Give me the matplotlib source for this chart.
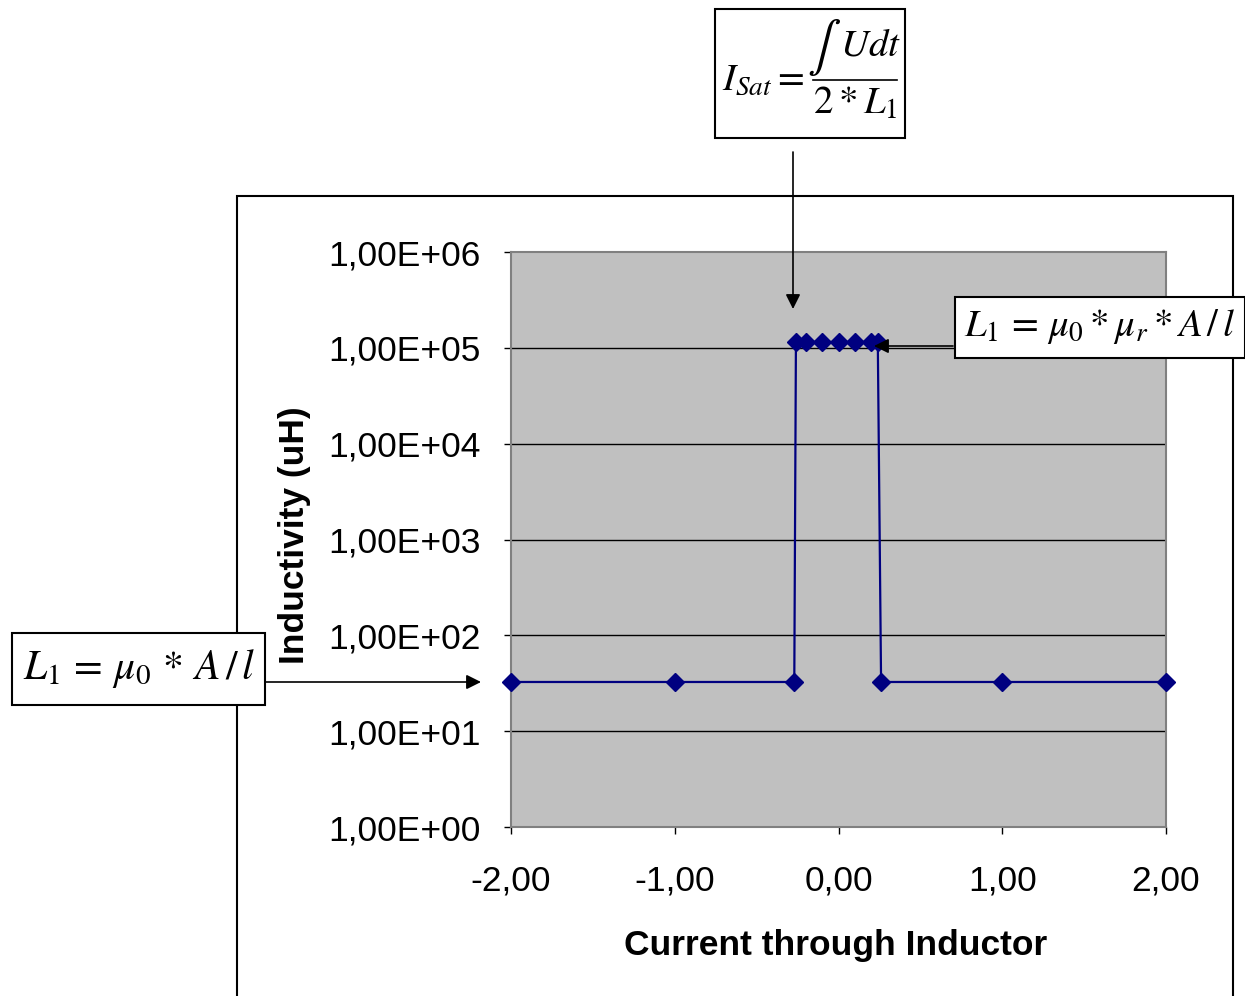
import matplotlib.pyplot as plt
from matplotlib.patches import Rectangle
from matplotlib.lines import Line2D
from matplotlib.ticker import FixedLocator, FuncFormatter, NullLocator

plt.rcParams['font.family'] = 'Liberation Sans'
plt.rcParams['mathtext.fontset'] = 'stix'

# values
current = [-2.0, -1.0, -0.27, -0.26, -0.2, -0.1, 0.0, 0.1, 0.2, 0.24, 0.26, 1.0, 2.0]
inductivity = [32.6, 32.6, 32.6, 115000, 115000, 115000, 115000, 115000, 115000, 115000, 32.6, 32.6, 32.6]
x_ticks = [-2, -1, 0, 1, 2]
y_ticks = [1e0, 1e1, 1e2, 1e3, 1e4, 1e5, 1e6]

W, H = 1245, 996
fig = plt.figure(figsize=(W / 100, H / 100), dpi=100)


def fx(px):
    return px / W


def fy(py):
    return 1 - py / H


# outer chart frame
fig.patches.append(Rectangle((fx(237), -0.1), fx(1233) - fx(237), fy(196) + 0.1,
                             transform=fig.transFigure, fill=False, edgecolor='black', lw=1.5))

ax = fig.add_axes([fx(511), fy(827), fx(1166) - fx(511), fy(252) - fy(827)])
ax.set_facecolor('#C0C0C0')
for s in ax.spines.values():
    s.set_color('#808080')
    s.set_linewidth(1.5)

ax.set_yscale('log')
ax.set_ylim(1, 1e6)
ax.set_xlim(-2, 2)
ax.yaxis.set_major_locator(FixedLocator(y_ticks))
ax.yaxis.set_minor_locator(NullLocator())
ax.yaxis.set_major_formatter(FuncFormatter(lambda v, p: ('%.2E' % v).replace('.', ',')))
ax.xaxis.set_major_locator(FixedLocator(x_ticks))
ax.xaxis.set_major_formatter(FuncFormatter(lambda v, p: ('%.2f' % v).replace('.', ',')))
ax.tick_params(axis='both', labelsize=25.5, length=5, width=1, color='black')
ax.tick_params(axis='y', pad=17)
ax.tick_params(axis='x', pad=22)

for v in y_ticks[1:-1]:
    ax.axhline(v, color='black', lw=1, zorder=1)

ax.plot(current, inductivity, color='#000080', lw=1.6, marker='D', markersize=9,
        zorder=3, clip_on=False)

ax.set_xlabel('Current through Inductor', fontsize=25.5, fontweight='bold')
ax.set_ylabel('Inductivity (uH)', fontsize=25.5, fontweight='bold')
ax.xaxis.set_label_coords(0.496, -0.178)
ax.yaxis.set_label_coords(-0.305, 0.508)


def box(x0, y0, x1, y1):
    fig.patches.append(Rectangle((fx(x0), fy(y1)), fx(x1) - fx(x0), fy(y0) - fy(y1),
                                 transform=fig.transFigure, facecolor='white',
                                 edgecolor='black', lw=1.5, zorder=5))


def label(x, y, tex, size, ha='center'):
    fig.text(fx(x), fy(y), tex, fontsize=size, ha=ha, va='center', zorder=6)


def arrow(x0, y0, x1, y1):
    fig.add_artist(plt.Annotation('', xy=(fx(x1), fy(y1)), xytext=(fx(x0), fy(y0)),
                                  xycoords='figure fraction', textcoords='figure fraction',
                                  arrowprops=dict(arrowstyle='-|>', color='black', lw=1.2,
                                                  mutation_scale=22, shrinkA=0, shrinkB=0)))


# saturation current formula, fraction built by hand
box(715, 9, 905, 138)
label(722, 80, r'$I_{Sat}$', 28, ha='left')
label(788, 78, r'$=$', 28)
label(824, 48, r'$\int$', 36)
label(840, 45, r'$Udt$', 28, ha='left')
label(855, 104, r'$2*L_1$', 28)
fig.add_artist(Line2D([fx(813), fx(897)], [fy(80), fy(80)], color='black', lw=1.2, zorder=6))

box(955, 297, 1245, 358)
label(1100, 327, r'$L_1\,=\,\mu_0*\mu_r*A\,/\,l$', 28)
box(12, 633, 265, 705)
label(139, 668, r'$L_1\,=\,\mu_0\,*\,A\,/\,l$', 30)

arrow(793, 152, 793, 309)
arrow(953, 346, 874, 346)
arrow(266, 682, 481, 682)

fig.savefig('out.png', dpi=100)
